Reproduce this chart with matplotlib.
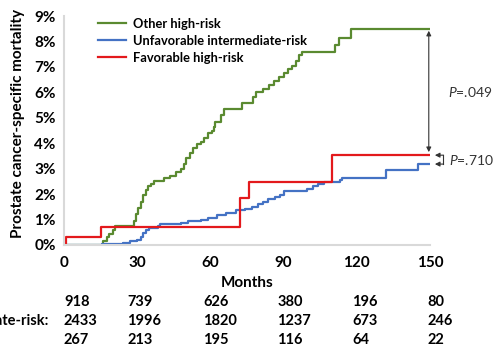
import numpy as np
import matplotlib
matplotlib.use('Agg')
import matplotlib.pyplot as plt
import matplotlib.transforms as mtransforms

# -------------------------------------------------------------------
# DATA (cumulative incidence, %, step "post")
# -------------------------------------------------------------------
green_months = [0, 16, 17.5, 18.5, 20, 21, 28.5, 29.5, 30.5, 31.5, 32.5, 33.5, 34.5,
                35.5, 37, 41, 43.5, 46, 48, 49, 50, 51.5, 53, 54.5, 56, 57.5, 59,
                60.5, 61.5, 62, 64.5, 65.5, 73, 77.5, 78.5, 81.5, 84, 86, 88, 90,
                92, 93.5, 95, 96.5, 97.5, 111, 112.5, 117.5, 150]
green_vals = [0, 0.15, 0.3, 0.45, 0.6, 0.75, 0.95, 1.2, 1.45, 1.7, 1.95, 2.15, 2.3,
              2.4, 2.5, 2.62, 2.72, 2.85, 3.0, 3.2, 3.4, 3.6, 3.8, 3.95, 4.05, 4.2,
              4.4, 4.5, 4.65, 4.85, 5.1, 5.35, 5.6, 5.8, 6.0, 6.15, 6.3, 6.45, 6.6,
              6.75, 6.9, 7.05, 7.25, 7.45, 7.58, 7.85, 8.15, 8.47, 8.47]

blue_months = [0, 15.5, 18, 24, 27, 30, 31.5, 32.3, 33.5, 35, 38.5, 39.5, 48, 51,
               56, 59, 62.5, 66.5, 70.5, 74, 77, 79.5, 81.5, 83.5, 86.5, 88.5, 90,
               99.5, 102, 104, 106.5, 113, 114, 132, 145, 150]
blue_vals = [0, 0.03, 0.05, 0.09, 0.14, 0.2, 0.33, 0.46, 0.6, 0.67, 0.75, 0.83,
             0.88, 0.95, 1.0, 1.08, 1.18, 1.27, 1.36, 1.42, 1.5, 1.62, 1.7, 1.8,
             1.9, 1.97, 2.12, 2.2, 2.3, 2.4, 2.48, 2.55, 2.63, 2.95, 3.18, 3.18]

red_months = [0, 1, 15, 72, 76, 110, 150]
red_vals = [0, 0.31, 0.7, 1.86, 2.47, 3.53, 3.53]

series_labels = ['Other high-risk', 'Unfavorable intermediate-risk', 'Favorable high-risk']
risk_labels = ['Other high-risk:', 'Unfavorable intermediate-risk:', 'Favorable high-risk:']
risk_other = [918, 739, 626, 380, 196, 80]
risk_unfav = [2433, 1996, 1820, 1237, 673, 246]
risk_fav = [267, 213, 195, 116, 64, 22]

x_ticks = [0, 30, 60, 90, 120, 150]
y_ticks = list(range(0, 10))
p_high = '.049'
p_low = '.710'

# -------------------------------------------------------------------
# STYLE
# -------------------------------------------------------------------
FONT = 'Lato'
plt.rcParams['font.family'] = [FONT, 'DejaVu Sans']
plt.rcParams['mathtext.fontset'] = 'custom'
plt.rcParams['mathtext.it'] = 'Lato:italic'
plt.rcParams['mathtext.rm'] = 'Lato'

C_GREEN = '#5a8a30'
C_BLUE = '#4472c4'
C_RED = '#e3191c'
C_GRID = '#d9d9d9'
C_ARROW = '#333333'

fig = plt.figure(figsize=(4.96, 3.45), dpi=100)
W, H = 496, 345
ax = fig.add_axes([64 / W, 1 - 245 / H, 366 / W, 229 / H])

l1, = ax.step(green_months, green_vals, where='post', color=C_GREEN, lw=1.6)
l2, = ax.step(blue_months, blue_vals, where='post', color=C_BLUE, lw=1.6)
l3, = ax.step(red_months, red_vals, where='post', color=C_RED, lw=1.6)

ax.set_xlim(0, 150)
ax.set_ylim(0, 9)
ax.set_xticks(x_ticks)
ax.set_yticks(y_ticks)
ax.set_yticklabels([f'{v}%' for v in y_ticks])
ax.tick_params(length=0, labelsize=11)
ax.tick_params(axis='x', pad=8)
ax.tick_params(axis='y', pad=6)
for lab in ax.get_xticklabels() + ax.get_yticklabels():
    lab.set_fontweight('bold')

for s in ['top', 'right']:
    ax.spines[s].set_visible(False)
for s in ['left', 'bottom']:
    ax.spines[s].set_color(C_GRID)
    ax.spines[s].set_linewidth(1.5)

ax.set_xlabel('Months', fontsize=11, fontweight='bold', labelpad=4)
ax.set_ylabel('Prostate cancer-specific mortality', fontsize=11, fontweight='bold')
ax.yaxis.set_label_coords(-0.107, 0.53)

leg = ax.legend([l1, l2, l3], series_labels, loc='upper left',
                bbox_to_anchor=(98 / W, 1 - 18 / H), bbox_transform=fig.transFigure,
                frameon=False, fontsize=9.3, handlelength=2.17, handletextpad=0.54,
                labelspacing=0.38, borderpad=0, borderaxespad=0)
for t in leg.get_texts():
    t.set_fontweight('bold')

# -------------------------------------------------------------------
# Anotações de P
# -------------------------------------------------------------------
ax.annotate('', xy=(149.5, green_vals[-1] - 0.05), xytext=(149.5, red_vals[-1] + 0.12),
            arrowprops=dict(arrowstyle='<|-|>', color=C_ARROW, lw=0.8,
                            mutation_scale=7, shrinkA=0, shrinkB=0),
            annotation_clip=False)
ax.text(157.5, (green_vals[-1] + red_vals[-1]) / 2, r'$P$=' + p_high,
        fontsize=10, color=C_ARROW, va='center', ha='left', clip_on=False)

xb1, xb2 = 152.0, 155.5
ax.plot([xb2, xb2], [red_vals[-1], blue_vals[-1]], color=C_ARROW, lw=0.8, clip_on=False)
for yv in (red_vals[-1], blue_vals[-1]):
    ax.annotate('', xy=(xb1, yv), xytext=(xb2 + 0.05, yv),
                arrowprops=dict(arrowstyle='-|>', color=C_ARROW, lw=0.8,
                                mutation_scale=7, shrinkA=0, shrinkB=0),
                annotation_clip=False)
ax.text(157.8, (red_vals[-1] + blue_vals[-1]) / 2, r'$P$=' + p_low,
        fontsize=10, color=C_ARROW, va='center', ha='left', clip_on=False)

# -------------------------------------------------------------------
# Número em risco
# -------------------------------------------------------------------
trans = mtransforms.blended_transform_factory(ax.transData, fig.transFigure)
num_x = [0, 26, 57, 87.5, 118, 149]
row_y = [1 - 302 / H, 1 - 321 / H, 1 - 339.5 / H]
for yy, row in zip(row_y, [risk_other, risk_unfav, risk_fav]):
    for xx, v in zip(num_x, row):
        ax.text(xx, yy, str(v), transform=trans, fontsize=10.5, fontweight='bold',
                ha='left', va='center', clip_on=False)

# rótulos das linhas: alinhados à esquerda, fim do rótulo do meio em x=48 px
fig.canvas.draw()
probe = fig.text(48 / W, row_y[1], risk_labels[1], fontsize=10.5, fontweight='bold',
                 ha='right', va='center')
fig.canvas.draw()
x_left = probe.get_window_extent().x0 / W
probe.remove()
for yy, lab in zip(row_y, risk_labels):
    fig.text(x_left, yy, lab, fontsize=10.5, fontweight='bold', ha='left', va='center')

fig.savefig('out.png', dpi=100)
